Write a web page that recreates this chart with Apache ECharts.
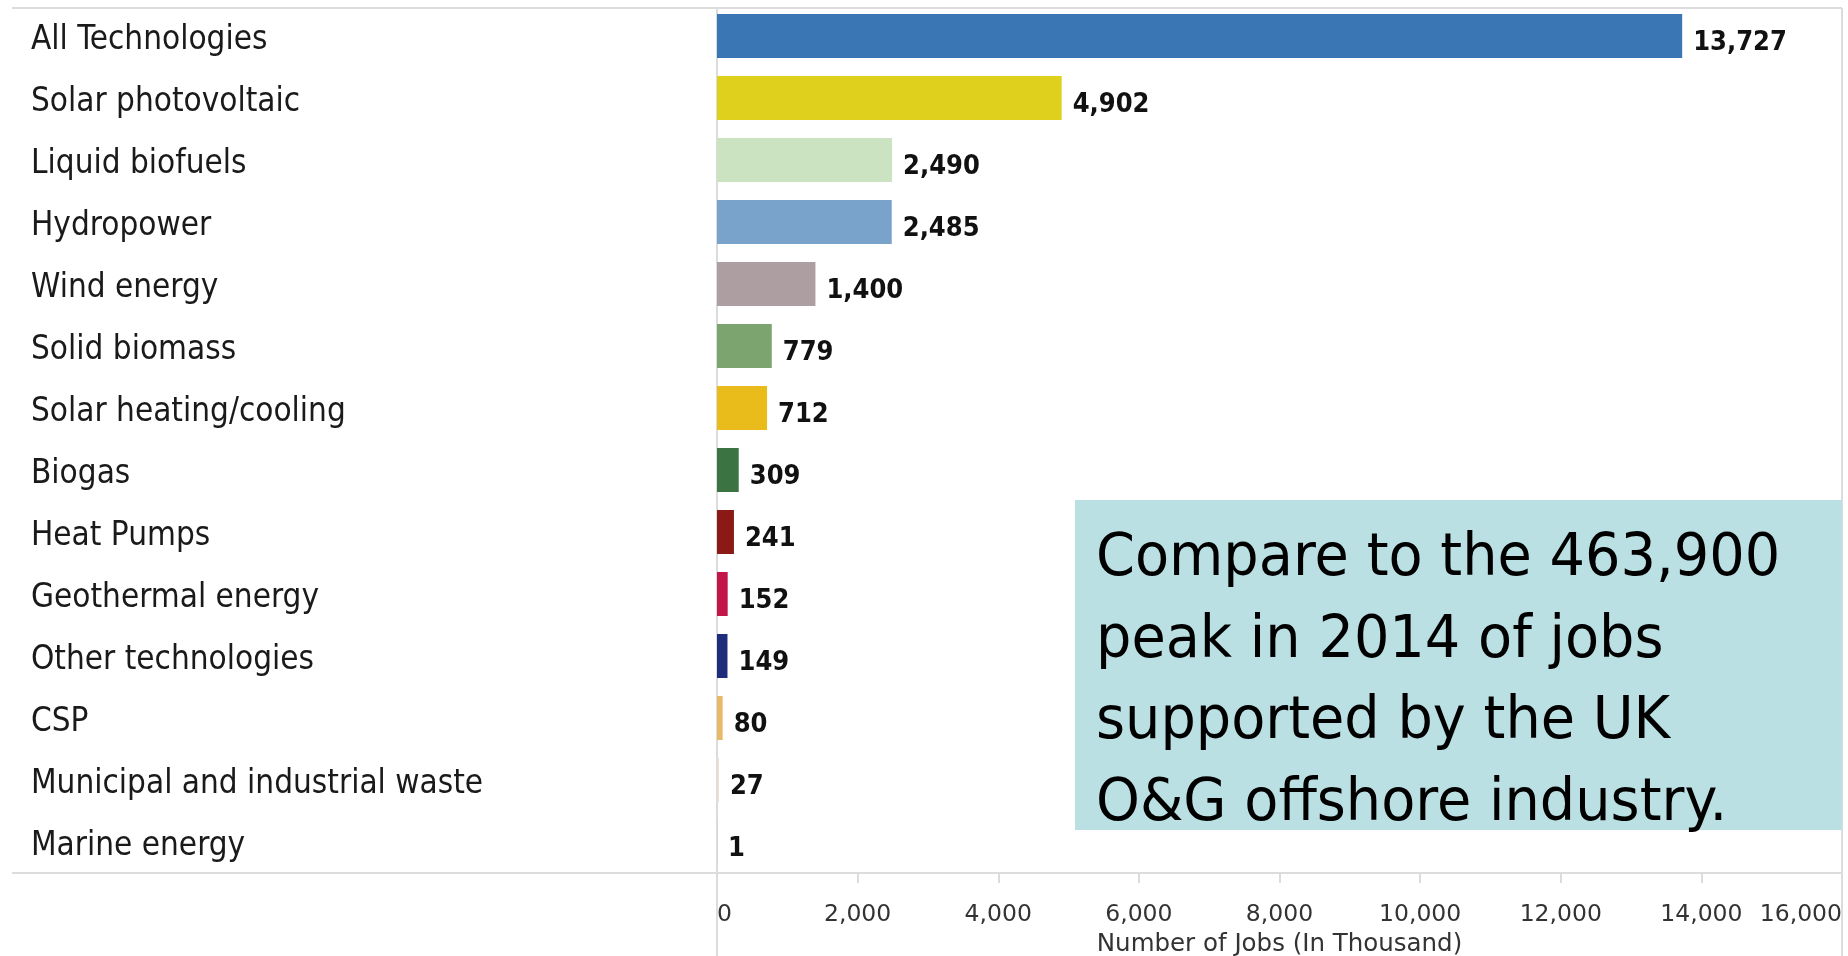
<!DOCTYPE html>
<html>
<head>
<meta charset="utf-8">
<title>Renewable energy jobs by technology</title>
<script src="https://cdn.jsdelivr.net/npm/echarts@6/dist/echarts.min.js"></script>
<style>
  html, body { margin: 0; padding: 0; background: #ffffff; }
  #chart { width: 1848px; height: 956px; }
</style>
</head>
<body>
<div id="chart"></div>
<script>
// Employment by renewable technology (thousands of jobs)
const categories = [
  'All Technologies', 'Solar photovoltaic', 'Liquid biofuels', 'Hydropower',
  'Wind energy', 'Solid biomass', 'Solar heating/cooling', 'Biogas',
  'Heat Pumps', 'Geothermal energy', 'Other technologies', 'CSP',
  'Municipal and industrial waste', 'Marine energy'
];
const jobs = [13727, 4902, 2490, 2485, 1400, 779, 712, 309, 241, 152, 149, 80, 27, 1];
const barColors = [
  '#3a76b4', '#e0d01e', '#cbe3c0', '#7aa3cb', '#ad9ea1', '#7ba46e', '#e9bc1b',
  '#3b7442', '#8b1a16', '#c2164a', '#1d2d7a', '#e9b96a', '#e8ddd0', '#5b9bd5'
];
const axisMax = 16000;
const axisStep = 2000;
const axisTitle = 'Number of Jobs (In Thousand)';
const noteLines = [
  'Compare to the 463,900',
  'peak in 2014 of jobs',
  'supported by the UK',
  'O&G offshore industry.'
];

const fmt = v => Number(v).toLocaleString('en-US');
const frame = '#dcdcdc';
const narrowFont = "'DejaVu Sans Condensed', 'DejaVu Sans', sans-serif";
const plainFont = "'DejaVu Sans', sans-serif";

const chart = echarts.init(document.getElementById('chart'), null, { renderer: 'canvas' });

chart.setOption({
  animation: false,
  backgroundColor: '#ffffff',
  grid: { left: 717, right: 6, top: 5, bottom: 83, outerBoundsMode: 'none' },
  xAxis: {
    type: 'value',
    min: 0,
    max: axisMax,
    interval: axisStep,
    axisLine: { show: false },
    axisTick: { show: true, length: 10, lineStyle: { color: frame, width: 2 } },
    splitLine: { show: false },
    axisLabel: {
      margin: 30,
      fontSize: 23.5,
      fontFamily: plainFont,
      color: '#333333',
      formatter: fmt,
      showMinLabel: true,
      showMaxLabel: true,
      alignMinLabel: 'left',
      alignMaxLabel: 'right'
    },
    name: axisTitle,
    nameLocation: 'middle',
    nameGap: 59,
    nameTextStyle: { fontSize: 24.5, fontFamily: plainFont, color: '#333333' }
  },
  yAxis: {
    type: 'category',
    inverse: true,
    data: categories,
    axisLine: { show: false },
    axisTick: { show: false },
    axisLabel: {
      align: 'left',
      margin: 686,
      fontSize: 33,
      fontFamily: narrowFont,
      color: '#1a1a1a',
      // a short line box set from the band centre drops each name a little below it
      verticalAlign: 'top',
      lineHeight: 9
    }
  },
  series: [{
    type: 'bar',
    barWidth: 44,
    data: jobs.map((v, i) => ({ value: v, itemStyle: { color: barColors[i] } })),
    label: {
      show: true,
      position: 'right',
      distance: 11,
      offset: [0, 7],
      fontSize: 27,
      fontWeight: 'bold',
      fontFamily: narrowFont,
      color: '#111111',
      formatter: p => fmt(p.value)
    }
  }],
  graphic: [
    // frame lines around the plot area
    { type: 'line', shape: { x1: 12, y1: 8, x2: 1842, y2: 8 }, style: { stroke: frame, lineWidth: 2 } },
    { type: 'line', shape: { x1: 12, y1: 873, x2: 1842, y2: 873 }, style: { stroke: frame, lineWidth: 2 } },
    { type: 'line', shape: { x1: 717, y1: 8, x2: 717, y2: 956 }, style: { stroke: frame, lineWidth: 2 } },
    { type: 'line', shape: { x1: 1842, y1: 8, x2: 1842, y2: 956 }, style: { stroke: frame, lineWidth: 2 } },
    // comparison note
    {
      type: 'group',
      z: 100,
      children: [
        { type: 'rect', shape: { x: 1075, y: 500, width: 767, height: 330 }, style: { fill: '#bbe0e3' } },
        {
          type: 'text',
          x: 1096,
          y: 519,
          scaleX: 0.945,
          style: {
            text: noteLines.join('\n'),
            font: "59px 'DejaVu Sans', sans-serif",
            fill: '#000000',
            lineHeight: 81.5,
            verticalAlign: 'top',
            align: 'left'
          }
        }
      ]
    }
  ]
});
</script>
</body>
</html>
